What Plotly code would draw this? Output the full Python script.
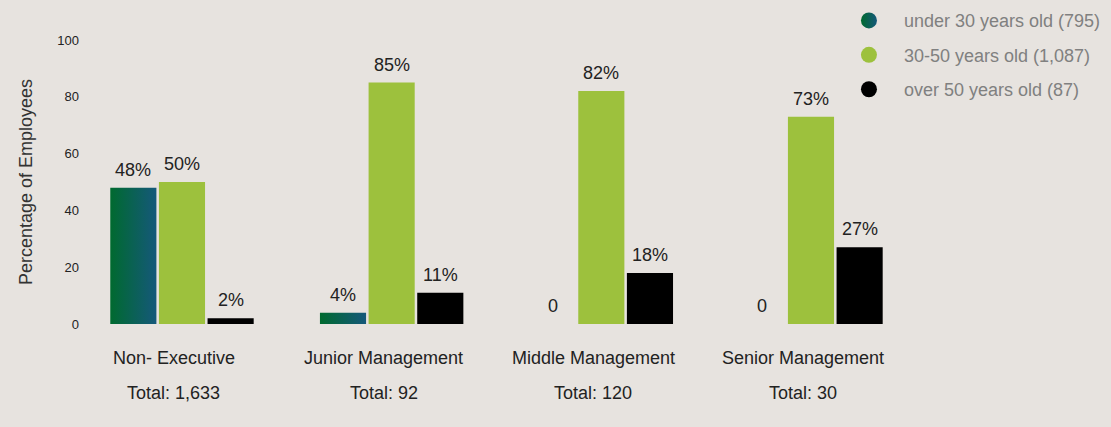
import plotly.graph_objects as go

# Employee age distribution by level (percent of each level)
levels = ["Non- Executive", "Junior Management", "Middle Management", "Senior Management"]
totals = ["Total: 1,633", "Total: 92", "Total: 120", "Total: 30"]
under_30 = [48, 4, 0, 0]
age_30_50 = [50, 85, 82, 73]
over_50 = [2, 11, 18, 27]
series_names = ["under 30 years old (795)", "30-50 years old (1,087)", "over 50 years old (87)"]
y_ticks = [0, 20, 40, 60, 80, 100]

BG = "#e7e3df"
GREEN = "#9dc13d"
BLACK = "#000000"
GRAD_LEFT = "#006a2f"
GRAD_RIGHT = "#15587a"
TEXT = "#222222"
FONT = "Liberation Sans, Arial, sans-serif"

bar_w = 0.22          # bar width in category units
step = 0.232          # distance between neighbouring bar centres
offsets = [-step, 0.0, step]

fig = go.Figure()

# first series: gradient-filled bars drawn as filled polygons
for i, v in enumerate(under_30):
    x0 = i + offsets[0] - bar_w / 2
    x1 = i + offsets[0] + bar_w / 2
    fig.add_trace(go.Scatter(
        x=[x0, x1, x1, x0, x0], y=[0, 0, v, v, 0],
        mode="lines", fill="toself", line=dict(width=0),
        fillcolor=GRAD_LEFT,
        fillgradient=dict(type="horizontal",
                          colorscale=[[0, GRAD_LEFT], [1, GRAD_RIGHT]]),
        hoverinfo="skip", showlegend=False,
    ))

xs = list(range(len(levels)))
fig.add_trace(go.Bar(x=xs, y=age_30_50, width=bar_w, offset=offsets[1] - bar_w / 2,
                     marker=dict(color=GREEN, line=dict(width=0)), showlegend=False))
fig.add_trace(go.Bar(x=xs, y=over_50, width=bar_w, offset=offsets[2] - bar_w / 2,
                     marker=dict(color=BLACK, line=dict(width=0)), showlegend=False))

# legend entries
legend_styles = [
    dict(color=GRAD_LEFT, gradient=dict(type="horizontal", color=GRAD_RIGHT)),
    dict(color=GREEN),
    dict(color=BLACK),
]
for name, st in zip(series_names, legend_styles):
    fig.add_trace(go.Scatter(
        x=[None], y=[None], mode="markers", name=name, legendgroup=name,
        marker=dict(symbol="circle", size=22, line=dict(width=0), **st),
    ))

# value labels above bars
annotations = []
for series, off in zip([under_30, age_30_50, over_50], offsets):
    for i, v in enumerate(series):
        annotations.append(dict(
            x=i + off, y=v, xref="x", yref="y",
            text=f"{v}%" if v else "0", showarrow=False,
            yanchor="middle", yshift=18,
            font=dict(size=18, color=TEXT),
        ))

# category names and totals below the axis
for i, (lv, tot) in enumerate(zip(levels, totals)):
    annotations.append(dict(x=i, y=0, xref="x", yref="paper", text=lv,
                            showarrow=False, yanchor="middle", yshift=-34, xshift=-8,
                            font=dict(size=18, color=TEXT)))
    annotations.append(dict(x=i, y=0, xref="x", yref="paper", text=tot,
                            showarrow=False, yanchor="middle", yshift=-69, xshift=-8,
                            font=dict(size=18, color=TEXT)))

fig.update_layout(
    width=1111, height=427,
    margin=dict(l=100, r=200, t=40, b=103, autoexpand=False),
    paper_bgcolor=BG, plot_bgcolor=BG,
    font=dict(family=FONT, color=TEXT),
    barmode="overlay",
    annotations=annotations,
    showlegend=True,
    legend=dict(
        x=0.905, y=1.133, xanchor="left", yanchor="top",
        itemwidth=60,
        font=dict(size=18, color="#808080"),
        bgcolor="rgba(0,0,0,0)", traceorder="grouped", tracegroupgap=8,
    ),
    xaxis=dict(range=[-0.391, 3.477], showticklabels=False, showgrid=False,
               zeroline=False, showline=False, fixedrange=True),
    yaxis=dict(range=[0, 100], tickvals=y_ticks, showgrid=False, zeroline=False,
               showline=False, ticklabelstandoff=20,
               tickfont=dict(size=13, color=TEXT),
               title=dict(text="Percentage of Employees", standoff=19,
                          font=dict(size=18, color="#333333"))),
)

fig.write_html("out.html")
